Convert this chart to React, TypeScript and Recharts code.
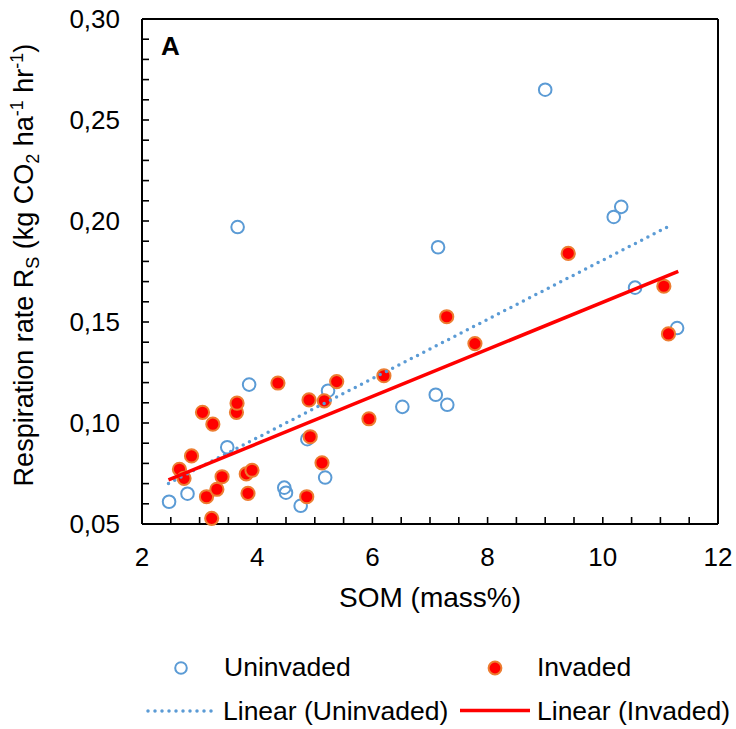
import { ScatterChart, Scatter, XAxis, YAxis, ReferenceLine, Label } from "recharts";

// SOM (mass%) and respiration rate Rs (kg CO2 ha-1 hr-1)
const uninvadedSOM = [2.47, 2.79, 3.48, 3.66, 3.86, 4.47, 4.5, 4.755, 4.87, 5.18, 5.23, 6.52, 7.1, 7.14, 7.3, 9.0, 10.19, 10.32, 10.56, 11.29];
const uninvadedRs = [0.061, 0.065, 0.088, 0.197, 0.119, 0.068, 0.0655, 0.059, 0.092, 0.073, 0.116, 0.108, 0.114, 0.187, 0.109, 0.265, 0.202, 0.207, 0.167, 0.147];

const invadedSOM = [2.65, 2.73, 2.86, 3.05, 3.12, 3.21, 3.23, 3.3, 3.39, 3.64, 3.65, 3.81, 3.84, 3.91, 4.36, 4.86, 4.9, 4.92, 5.125, 5.165, 5.38, 5.94, 6.2, 7.29, 7.78, 9.4, 11.06, 11.14];
const invadedRs = [0.0771, 0.0726, 0.0837, 0.1053, 0.0635, 0.0528, 0.0994, 0.0672, 0.0734, 0.1053, 0.1098, 0.0748, 0.0652, 0.0766, 0.1198, 0.0635, 0.1114, 0.0932, 0.0803, 0.111, 0.1205, 0.1021, 0.1234, 0.1526, 0.1393, 0.184, 0.1677, 0.1441];

// trendline end points
const uninvadedFitSOM = [2.46, 11.2];
const uninvadedFitRs = [0.0701, 0.1982];
const invadedFitSOM = [2.46, 11.31];
const invadedFitRs = [0.0718, 0.1751];

const xTicks = [2, 2.5, 3, 3.5, 4, 4.5, 5, 5.5, 6, 6.5, 7, 7.5, 8, 8.5, 9, 9.5, 10, 10.5, 11, 11.5, 12];
const xLabels = [2, 4, 6, 8, 10, 12];
const yTicks = [0.05, 0.06, 0.07, 0.08, 0.09, 0.1, 0.11, 0.12, 0.13, 0.14, 0.15, 0.16, 0.17, 0.18, 0.19, 0.2, 0.21, 0.22, 0.23, 0.24, 0.25, 0.26, 0.27, 0.28, 0.29, 0.3];
const yLabels = [0.05, 0.1, 0.15, 0.2, 0.25, 0.3];

const FONT = "'Liberation Sans', Arial, sans-serif";
const BLUE = "#5B9BD5";

const toPoints = (xs: number[], ys: number[]) => xs.map((x, i) => ({ x, y: ys[i] }));
const isLabel = (list: number[], v: number) => list.some(l => Math.abs(l - v) < 1e-6);

const XTick = (p: any) => {
  const v = p.payload.value;
  return (
    <g>
      <line x1={p.x} x2={p.x} y1={p.y} y2={p.y - 7} stroke="#000" strokeWidth={1.6} />
      {isLabel(xLabels, v) && (
        <text x={p.x} y={p.y + 42} textAnchor="middle" fontSize={26} fontFamily={FONT} fill="#000">{v}</text>
      )}
    </g>
  );
};

const YTick = (p: any) => {
  const v = p.payload.value;
  return (
    <g>
      <line x1={p.x} x2={p.x + 7} y1={p.y} y2={p.y} stroke="#000" strokeWidth={1.6} />
      {isLabel(yLabels, v) && (
        <text x={p.x - 22} y={p.y + 9} textAnchor="end" fontSize={26} fontFamily={FONT} fill="#000">
          {v.toFixed(2).replace(".", ",")}
        </text>
      )}
    </g>
  );
};

const OpenDot = (p: any) => (
  <circle cx={p.cx} cy={p.cy} r={6.3} fill="none" stroke={BLUE} strokeWidth={2} />
);
const RedDot = (p: any) => (
  <circle cx={p.cx} cy={p.cy} r={6.6} fill="#FF0000" stroke="#ED7D31" strokeWidth={2} />
);
const NoDot = () => <g />;

export default function App() {
  return (
    <div style={{ position: "absolute", left: 0, top: 0, width: 736, height: 729, background: "#fff" }}>
      <ScatterChart width={736} height={729} margin={{ top: 19, right: 18, bottom: 105, left: 0 }}>
        <XAxis
          type="number" dataKey="x" domain={[2, 12]} ticks={xTicks} interval={0}
          height={100} tickSize={0} tickMargin={0} tickLine={false}
          axisLine={{ stroke: "#000", strokeWidth: 2 }} tick={<XTick />}
        >
          <Label content={() => (
            <text x={430} y={607} textAnchor="middle" fontSize={28} fontFamily={FONT} fill="#000">SOM (mass%)</text>
          )} />
        </XAxis>
        <YAxis
          type="number" dataKey="y" domain={[0.05, 0.3]} ticks={yTicks} interval={0}
          width={142} tickSize={0} tickMargin={0} tickLine={false}
          axisLine={{ stroke: "#000", strokeWidth: 2 }} tick={<YTick />}
        >
          <Label content={() => (
            <text x={33} y={265} transform="rotate(-90, 33, 265)" textAnchor="middle" fontSize={27} fontFamily={FONT} fill="#000">
              Respiration rate R<tspan fontSize={18} dy={6}>S</tspan>
              <tspan dy={-6}> (kg CO</tspan><tspan fontSize={18} dy={6}>2</tspan>
              <tspan dy={-6}> ha</tspan><tspan fontSize={18} dy={-10}>-1</tspan>
              <tspan dy={10}> hr</tspan><tspan fontSize={18} dy={-10}>-1</tspan>
              <tspan dy={10}>)</tspan>
            </text>
          )} />
        </YAxis>
        <ReferenceLine y={0.3} stroke="#000" strokeWidth={2} />
        <ReferenceLine x={12} stroke="#000" strokeWidth={2} />
        <Scatter name="Uninvaded" data={toPoints(uninvadedSOM, uninvadedRs)} shape={<OpenDot />} isAnimationActive={false} />
        <Scatter name="Invaded" data={toPoints(invadedSOM, invadedRs)} shape={<RedDot />} isAnimationActive={false} />
        <Scatter
          name="Linear (Uninvaded)" data={toPoints(uninvadedFitSOM, uninvadedFitRs)} shape={<NoDot />}
          line={{ stroke: BLUE, strokeWidth: 3.5, strokeDasharray: "0 7", strokeLinecap: "round" }}
          isAnimationActive={false}
        />
        <Scatter
          name="Linear (Invaded)" data={toPoints(invadedFitSOM, invadedFitRs)} shape={<NoDot />}
          line={{ stroke: "#FF0000", strokeWidth: 3.5 }}
          isAnimationActive={false}
        />
      </ScatterChart>

      {/* panel letter and legend */}
      <svg width={736} height={729} style={{ position: "absolute", left: 0, top: 0, pointerEvents: "none" }}>
        <text x={161} y={55} fontSize={26} fontWeight="bold" fontFamily={FONT} fill="#000">A</text>
        <circle cx={181} cy={668} r={5.8} fill="none" stroke={BLUE} strokeWidth={2} />
        <text x={224} y={676} fontSize={26.5} fontFamily={FONT} fill="#000">Uninvaded</text>
        <circle cx={495} cy={668} r={6.4} fill="#FF0000" stroke="#ED7D31" strokeWidth={2} />
        <text x={537} y={676} fontSize={26.5} fontFamily={FONT} fill="#000">Invaded</text>
        <line x1={148} x2={213} y1={711} y2={711} stroke={BLUE} strokeWidth={3.5} strokeDasharray="0 7" strokeLinecap="round" />
        <text x={223} y={720} fontSize={26.5} fontFamily={FONT} fill="#000">Linear (Uninvaded)</text>
        <line x1={460} x2={530} y1={710.5} y2={710.5} stroke="#FF0000" strokeWidth={3.5} />
        <text x={537} y={720} fontSize={26.5} fontFamily={FONT} fill="#000">Linear (Invaded)</text>
      </svg>
    </div>
  );
}
